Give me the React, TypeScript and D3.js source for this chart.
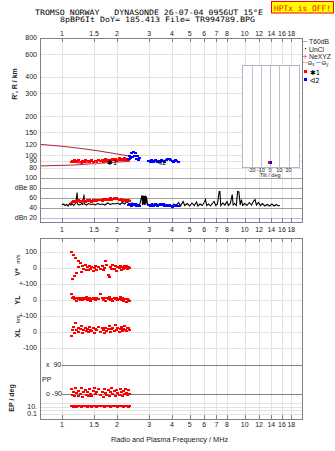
import * as d3 from "d3";
import React from "react";

// sounding frequencies (MHz) and per-echo parameters, O mode (*1)
const oFreq = [
	1.12, 1.13, 1.15, 1.17, 1.18, 1.2, 1.22, 1.23, 1.25, 1.27,
	1.29, 1.31, 1.33, 1.35, 1.37, 1.39, 1.41, 1.43, 1.45, 1.47,
	1.5, 1.52, 1.54, 1.57, 1.62, 1.65, 1.67, 1.7, 1.72, 1.75,
	1.78, 1.8, 1.83, 1.86, 1.89, 1.92, 1.95, 1.98, 2.01, 2.04,
	2.07, 2.1, 2.13, 2.16, 2.19, 2.22, 2.25, 2.28, 2.31, 2.34,
];
const oRange = [
	88, 90, 89, 91, 88, 90, 89, 91, 88, 87,
	90, 89, 91, 88, 90, 89, 88, 90, 91, 89,
	88, 90, 89, 91, 90, 92, 89, 91, 93, 90,
	92, 91, 89, 92, 94, 91, 93, 90, 92, 95,
	91, 93, 94, 92, 95, 93, 91, 94, 92, 93,
];
const oAmp = [
	50, 52, 53, 51, 54, 52, 53, 55, 52, 54,
	53, 55, 52, 54, 56, 53, 55, 54, 52, 55,
	54, 56, 53, 55, 56, 54, 57, 55, 56, 58,
	55, 57, 59, 56, 58, 60, 57, 59, 58, 56,
	55, 57, 54, 56, 55, 53, 56, 54, 55, 53,
];
const oVstar = [
	102, -71, 79, -50, 61, -33, 46, 8, 29, -23,
	12, -8, 18, -15, 5, -12, 14, -6, 9, -18,
	3, 15, -10, 6, -4, 11, -14, 2, 46, 20,
	-44, -54, 8, -9, 16, -5, 12, -16, 7, -2,
	14, -11, 5, -7, 10, -3, 13, -8, 4, -1,
];
const oYL = [
	37, 10, 18, 5, 12, -5, 15, 8, 2, 14,
	-3, 10, 6, 16, 0, 9, 12, -6, 7, 13,
	4, -2, 11, 8, 37, 15, 3, 10, -4, 12,
	6, 18, 1, 9, -8, 14, 5, 11, -3, 7,
	16, 2, 10, -6, 8, 4, -10, 6, 0, -5,
];
const oXL = [
	-23, 10, 30, -5, 56, 15, 22, 0, 18, 35,
	-8, 12, 28, 5, 20, -2, 30, 14, 8, 25,
	-6, 18, 10, 32, 3, 22, 15, -4, 28, 9,
	20, 38, 0, 16, 26, 6, 44, 12, 24, -3,
	18, 30, 8, 20, 36, 14, 5, 22, 28, 10,
];
const oPP = [
	-60, -95, -75, -105, -50, -85, -100, -70, -90, -55,
	-110, -80, -65, -95, -75, -100, -60, -88, -105, -70,
	-50, -92, -80, -62, -98, -75, -108, -58, -85, -95,
	-68, -102, -78, -55, -90, -72, -100, -64, -86, -96,
	-58, -80, -104, -70, -92, -60, -84, -98, -66, -88,
];
const oEP = [
	12, 15, 10, 14, 18, 11, 13, 16, 12, 10,
	14, 17, 12, 15, 11, 13, 16, 14, 10, 12,
	15, 13, 11, 17, 14, 12, 16, 10, 13, 15,
	12, 14, 11, 16, 13, 15, 12, 14, 10, 13,
	16, 12, 14, 11, 15, 13, 12, 14, 11, 13,
];

// X mode (<2)
const xFreq = [
	2.3, 2.33, 2.36, 2.39, 2.42, 2.45, 2.48, 2.51, 2.54, 2.57,
	2.6, 2.64, 2.96, 3.02, 3.07, 3.13, 3.19, 3.25, 3.31, 3.37,
	3.44, 3.5, 3.57, 3.64, 3.71, 3.78, 3.85, 3.92, 4.0, 4.07,
	4.15, 4.23, 4.31,
];
const xRange = [
	93, 99, 95, 103, 96, 105, 98, 104, 94, 99,
	92, 95, 90, 88, 91, 89, 90, 92, 88, 90,
	89, 91, 90, 88, 92, 94, 93, 91, 90, 89,
	91, 90, 88,
];
const xAmp = [
	46, 45, 47, 44, 46, 48, 45, 47, 44, 46,
	45, 43, 45, 44, 46, 43, 45, 47, 44, 46,
	48, 45, 47, 44, 46, 43, 45, 44, 42, 44,
	43, 45, 44,
];

// receiver noise level (dB) across the sweep
const noise: [number, number][] = [
	[1.0, 45], [1.02, 47], [1.04, 44], [1.06, 46], [1.08, 43], [1.1, 48], [1.12, 45],
	[1.14, 47], [1.16, 44], [1.19, 49], [1.21, 70], [1.22, 46], [1.25, 45], [1.28, 48],
	[1.3, 46], [1.32, 66], [1.33, 47], [1.36, 45], [1.4, 48], [1.44, 46], [1.48, 47],
	[1.52, 45], [1.57, 48], [1.62, 46], [1.67, 47], [1.72, 45], [1.78, 49], [1.84, 46],
	[1.9, 48], [1.96, 47], [2.02, 49], [2.08, 46], [2.14, 50], [2.2, 47], [2.27, 52],
	[2.34, 46], [2.42, 49], [2.5, 45], [2.58, 47], [2.66, 45], [2.74, 64], [2.76, 45],
	[2.78, 64], [2.8, 46], [2.82, 63], [2.84, 45], [2.86, 64], [2.88, 46], [2.9, 62],
	[2.94, 47], [3.02, 45], [3.12, 48], [3.22, 44], [3.34, 47], [3.46, 44], [3.58, 46],
	[3.72, 43], [3.86, 45], [4.0, 42], [4.1, 47], [4.2, 43], [4.35, 50], [4.45, 43],
	[4.6, 52], [4.7, 44], [4.85, 48], [5.0, 43], [5.15, 49], [5.3, 44], [5.45, 51],
	[5.55, 43], [5.7, 47], [5.85, 44], [6.0, 50], [6.1, 56], [6.2, 44], [6.35, 47],
	[6.5, 43], [6.65, 48], [6.8, 52], [6.95, 44], [7.1, 47], [7.25, 72], [7.32, 72],
	[7.4, 44], [7.6, 49], [7.8, 45], [8.0, 52], [8.15, 44], [8.35, 48], [8.55, 66],
	[8.65, 45], [8.8, 48], [9.0, 44], [9.15, 72], [9.3, 71], [9.45, 45], [9.6, 56],
	[9.75, 44], [10.0, 48], [10.3, 44], [10.6, 50], [10.9, 45], [11.2, 53], [11.4, 56],
	[11.6, 45], [11.9, 50], [12.2, 44], [12.5, 48], [12.9, 43], [13.3, 46], [13.7, 43],
	[14.1, 47], [14.5, 43], [14.9, 46], [15.3, 43], [15.6, 44],
];

// model virtual-height curves (km)
const modelUpper: [number, number][] = [[0.76, 121], [1.0, 117], [1.3, 112], [1.6, 107.5], [2.0, 102], [2.35, 98]];
const modelLower: [number, number][] = [[0.76, 82.5], [1.15, 83.8], [1.6, 86.5], [2.0, 88.3], [2.35, 89.5]];

// NeXYZ markers
const neFreq = [1.24, 1.37, 1.53];
const neRange = [86, 86, 86];

// echo tilts (deg) for the inset
const tiltDeg = [-1, 1];
const tiltLo = [86, 86];
const tiltHi = [90, 90];
const tiltColor = ["#ff0000", "#0000ff"];
const tiltTicks = [-20, -10, 0, 10, 20];

const freqTicks = [1, 1.5, 2, 3, 4, 5, 6, 7, 8, 10, 12, 14, 16, 18];
const rangeTicks = [800, 600, 400, 300, 200, 150, 120, 100, 90, 80];
const dbTicks = [100, 80, 60, 40, 20];
const dbLabels = ["100", "dBe 80", "60", "40", "dBn 20"];
const epTicks = [100, 10, 1, 0.1];

const FONT = "'Liberation Sans', Arial, sans-serif";
const MONO = "'DejaVu Sans Mono', monospace";
const GRID = "#e2e2e2";
const FRAME = "#808080";

const L = 40;
const R = 302;

const x = d3.scaleLog().domain([0.758, 20.6]).range([L, R]);
const yR = d3.scaleLog().domain([75.4, 800]).range([171, 38]);
const yDb = d3.scaleLinear().domain([20, 100]).range([217.5, 177.5]);
const yV = d3.scaleLinear().domain([-100, 100]).range([284, 252]);
const yYL = d3.scaleLinear().domain([-100, 100]).range([316, 284]);
const yXL = d3.scaleLinear().domain([-100, 100]).range([348, 316]);
const yPP = d3.scaleLinear().domain([-90, 90]).range([394, 365]);
const yEP = d3.scaleLog().domain([0.1, 10]).range([414, 406.7]);
const xTilt = d3.scaleLinear().domain([-30, 32]).range([242.3, 299.7]);

const TOP1 = 38;
const BOT1 = 222;
const TOP2 = 237.7;
const BOT2 = 419.3;

const Dots = ({ fx, vals, y, color }: { fx: number[]; vals: number[]; y: (v: number) => number; color: string }) => (
	<g fill={color} shapeRendering="crispEdges">
		{fx.map((f, i) => (
			<rect key={i} x={Math.round(x(f)) - 1} y={Math.round(y(vals[i])) - 1} width={3} height={2} />
		))}
	</g>
);

const FreqLabels = ({ y }: { y: number }) => (
	<g fontFamily={FONT} fontSize={7} fill="#222" textAnchor="middle">
		{freqTicks.map((f) => (
			<text key={f} x={x(f)} y={y}>{f}</text>
		))}
	</g>
);

const line = d3.line<[number, number]>();

const App = () => {
	const noisePath = line(noise.map(([f, db]) => [x(f), yDb(db)]));
	const upperPath = line(modelUpper.map(([f, h]) => [x(f), yR(h)]));
	const lowerPath = line(modelLower.map(([f, h]) => [x(f), yR(h)]));
	const rowLabel = (y: number, t: string) => (
		<text x={37} y={y} dy="0.35em" textAnchor="end">{t}</text>
	);
	const hLine = (y: number, key: string, x1 = L) => (
		<line key={key} x1={x1} x2={R} y1={Math.round(y) + 0.5} y2={Math.round(y) + 0.5} />
	);

	return (
		<svg width={335} height={451} style={{ position: "absolute", left: 0, top: 0, background: "#fff" }}>
			{/* header */}
			<g fontFamily={MONO} fontSize={7.4} fill="#000">
				<text x={35} y={14.5} textLength={228} lengthAdjust="spacingAndGlyphs" xmlSpace="preserve">
					TROMSO NORWAY   DYNASONDE 26-07-04 0956UT 15°E
				</text>
				<text x={60} y={22} textLength={195} lengthAdjust="spacingAndGlyphs">
					8pBP6It DoY= 185.413 File= TR994789.BPG
				</text>
			</g>
			<rect x={271.5} y={1.5} width={62} height={11.5} fill="#ffff00" stroke="#ff0000" />
			<text x={274} y={10.5} fontFamily={MONO} fontSize={7.6} fill="#ff0000" textLength={57} lengthAdjust="spacingAndGlyphs">
				HPTx is OFF!
			</text>

			{/* grid */}
			<g stroke={GRID} shapeRendering="crispEdges">
				{freqTicks.map((f) => (
					<line key={"a" + f} x1={Math.round(x(f)) + 0.5} x2={Math.round(x(f)) + 0.5} y1={TOP1} y2={BOT1} />
				))}
				{freqTicks.map((f) => (
					<line key={"b" + f} x1={Math.round(x(f)) + 0.5} x2={Math.round(x(f)) + 0.5} y1={TOP2} y2={BOT2} />
				))}
				{rangeTicks.map((h) => hLine(yR(h), "h" + h))}
				{[100, 0, -100].map((v) => hLine(yV(v), "v" + v))}
				{[0, -100].map((v) => hLine(yYL(v), "yl" + v))}
				{[0, -100].map((v) => hLine(yXL(v), "xl" + v))}
				{epTicks.map((v) => hLine(yEP(v), "ep" + v))}
			</g>

			{/* dB and polarisation reference lines */}
			<g shapeRendering="crispEdges">
				{dbTicks.map((d) => (
					<line key={d} x1={L} x2={R} y1={Math.round(yDb(d)) + 0.5} y2={Math.round(yDb(d)) + 0.5}
						stroke={d === 20 ? "#b8b8ff" : "#a0a0a0"} />
				))}
				<g stroke={FRAME}>
					{[90, -90].map((p) => hLine(yPP(p), "pp" + p, 62))}
				</g>
			</g>

			{/* tilt inset */}
			<g shapeRendering="crispEdges">
				<rect x={xTilt(-30)} y={yR(490)} width={xTilt(32) - xTilt(-30)} height={yR(80) - yR(490)}
					fill="#fff" stroke="#b4b4c8" />
				{tiltTicks.map((t) => (
					<line key={t} x1={Math.round(xTilt(t)) + 0.5} x2={Math.round(xTilt(t)) + 0.5} y1={yR(490)} y2={yR(80)} stroke="#c0c0cc" />
				))}
				{tiltDeg.map((t, i) => (
					<rect key={i} x={xTilt(t) - 1.5} y={yR(tiltHi[i])} width={2} height={yR(tiltLo[i]) - yR(tiltHi[i])} fill={tiltColor[i]} />
				))}
			</g>
			<g fontFamily={FONT} fontSize={5.5} fill="#222" textAnchor="middle">
				{tiltTicks.map((t) => (
					<text key={t} x={xTilt(t)} y={171.5}>{t}</text>
				))}
				<text x={xTilt(0)} y={177}>Tilt / deg</text>
			</g>

			{/* model curves */}
			<path d={upperPath ?? ""} fill="none" stroke="#b0203c" strokeWidth={1} />
			<path d={lowerPath ?? ""} fill="none" stroke="#b0203c" strokeWidth={1} />

			{/* noise and echo amplitudes */}
			<path d={noisePath ?? ""} fill="none" stroke="#000" strokeWidth={1.1} />
			<Dots fx={oFreq} vals={oAmp} y={yDb} color="#ff0000" />
			<Dots fx={xFreq} vals={xAmp} y={yDb} color="#0000ff" />

			{/* echo ranges */}
			<Dots fx={oFreq} vals={oRange} y={yR} color="#ff0000" />
			<Dots fx={xFreq} vals={xRange} y={yR} color="#0000ff" />
			<g stroke="#ff6fb0" strokeWidth={1}>
				{neFreq.map((f, i) => (
					<g key={i} transform={`translate(${x(f)},${yR(neRange[i])})`}>
						<line x1={-2} x2={2} y1={0} y2={0} />
						<line x1={0} x2={0} y1={-2} y2={2} />
					</g>
				))}
			</g>
			<g fontFamily="'DejaVu Sans', sans-serif" fontSize={7} fill="#000">
				<text x={x(1.76)} y={yR(84.5)}>✱1</text>
				<text x={x(3.3)} y={yR(84.5)}>ᐊ2</text>
			</g>

			{/* lower panel points */}
			<Dots fx={oFreq} vals={oVstar} y={yV} color="#ff0000" />
			<Dots fx={oFreq} vals={oYL} y={yYL} color="#ff0000" />
			<Dots fx={oFreq} vals={oXL} y={yXL} color="#ff0000" />
			<Dots fx={oFreq} vals={oPP} y={yPP} color="#ff0000" />
			<Dots fx={oFreq} vals={oEP} y={yEP} color="#ff0000" />

			{/* frames and ticks */}
			<g fill="none" stroke={FRAME} shapeRendering="crispEdges">
				<rect x={L + 0.5} y={TOP1 + 0.5} width={R - L} height={BOT1 - TOP1} />
				<rect x={L + 0.5} y={Math.round(TOP2) + 0.5} width={R - L} height={Math.round(BOT2) - Math.round(TOP2)} />
				{freqTicks.map((f) => {
					const px = Math.round(x(f)) + 0.5;
					return (
						<g key={f}>
							<line x1={px} x2={px} y1={TOP1} y2={TOP1 + 4} />
							<line x1={px} x2={px} y1={BOT1 - 4} y2={BOT1} />
							<line x1={px} x2={px} y1={TOP2} y2={TOP2 + 4} />
							<line x1={px} x2={px} y1={BOT2 - 4} y2={BOT2} />
						</g>
					);
				})}
			</g>

			<FreqLabels y={35.5} />
			<FreqLabels y={232} />
			<FreqLabels y={426.5} />

			{/* axis labels */}
			<g fontFamily={FONT} fontSize={7} fill="#222">
				{rangeTicks.map((h) => (
					<text key={h} x={37} y={yR(h)} dy="0.35em" textAnchor="end">{h}</text>
				))}
				{dbTicks.map((d, i) => (
					<text key={d} x={37} y={yDb(d)} dy="0.35em" textAnchor="end">{dbLabels[i]}</text>
				))}
				{rowLabel(yV(100), "100")}
				{rowLabel(yV(0), "0")}
				{rowLabel(yV(-100), "+-100")}
				{rowLabel(yYL(0), "0")}
				{rowLabel(yYL(-100), "+-100")}
				{rowLabel(yXL(0), "0")}
				{rowLabel(yXL(-100), "-100")}
				<text x={46} y={yPP(90)} dy="0.35em" xmlSpace="preserve">x  90</text>
				<text x={42} y={381.5}>PP</text>
				<text x={46} y={yPP(-90)} dy="0.35em">o -90</text>
				{rowLabel(yEP(10), "10.")}
				{rowLabel(yEP(0.1), "0.1")}
				<text x={169.5} y={442} textAnchor="middle" fontSize={7.3}>Radio and Plasma Frequency / MHz</text>
			</g>
			<g fontFamily={FONT} fontSize={7} fill="#222" fontWeight="bold" textAnchor="middle">
				<text transform="translate(17,84) rotate(-90)">R', R / km</text>
				<text transform="translate(14,398) rotate(-90)">EP / deg</text>
				<text transform="translate(20,272) rotate(-90)">V*</text>
				<text transform="translate(20,300) rotate(-90)">YL</text>
				<text transform="translate(20,333) rotate(-90)">XL</text>
			</g>
			<g fontFamily={FONT} fontSize={5.5} fill="#222" textAnchor="middle">
				<text transform="translate(20,259) rotate(-90)">m/s</text>
				<text transform="translate(20,319) rotate(-90)">km</text>
			</g>

			{/* legend */}
			<g fontFamily={FONT} fontSize={6.8} fill="#222">
				<line x1={303} x2={307} y1={41.5} y2={41.5} stroke="#aaa" />
				<text x={309} y={44}>T60dB</text>
				<rect x={305} y={48} width={1} height={1} fill="#000" />
				<text x={309} y={51.5}>UnCl</text>
				<g stroke="#ff6fb0">
					<line x1={303} x2={307} y1={56.5} y2={56.5} />
					<line x1={305} x2={305} y1={54.5} y2={58.5} />
				</g>
				<text x={309} y={59}>NeXYZ</text>
				<line x1={303} x2={307} y1={62.5} y2={62.5} stroke="#ff9a9a" />
				<text x={307.5} y={65} fontSize={6}>Θ<tspan fontSize={4.5} dy={1}>x</tspan></text>
				<line x1={316} x2={321} y1={62.5} y2={62.5} stroke="#9a9aff" />
				<text x={321.5} y={65} fontSize={6}>Θ<tspan fontSize={4.5} dy={1}>y</tspan></text>
				<rect x={304} y={70} width={3} height={3} fill="#ff0000" />
				<text x={310} y={74.5} fontFamily="'DejaVu Sans', sans-serif" fill="#000">✱1</text>
				<rect x={304} y={78} width={3} height={3} fill="#0000ff" />
				<text x={310} y={82.5} fontFamily="'DejaVu Sans', sans-serif" fill="#000">ᐊ2</text>
			</g>
		</svg>
	);
};

export default App;
